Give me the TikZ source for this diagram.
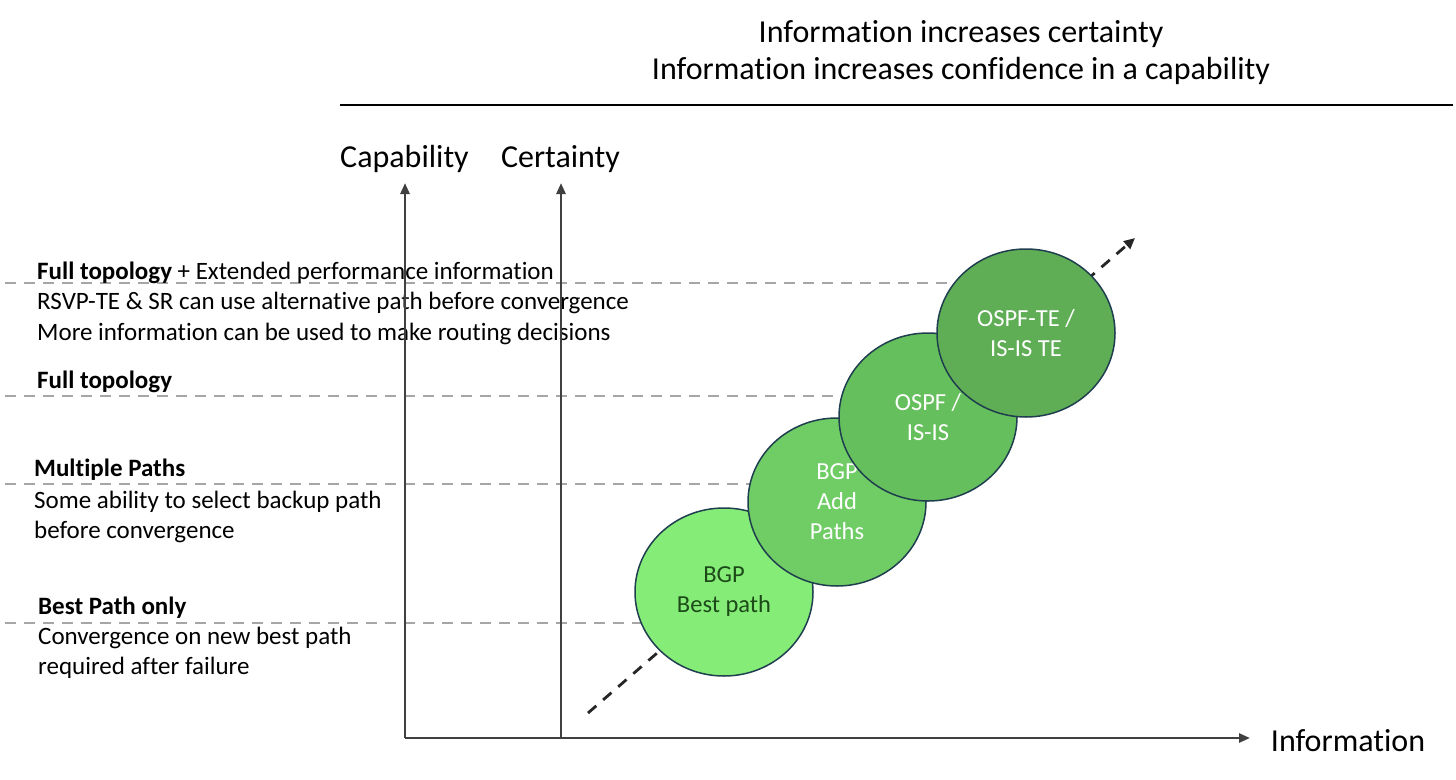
\documentclass[tikz,border=0pt]{standalone}
\usepackage{fontspec}
\setmainfont{Carlito}[Ligatures={NoCommon}]
\usetikzlibrary{arrows.meta,shapes.geometric}
\definecolor{axisgray}{HTML}{404040}
\definecolor{dashgray}{HTML}{A6A6A6}
\definecolor{edgeblue}{HTML}{1F3F4F}
\definecolor{gA}{HTML}{86EC78}
\definecolor{gB}{HTML}{70CD66}
\definecolor{gC}{HTML}{66BF5D}
\definecolor{gD}{HTML}{5FAE56}
\definecolor{darkgreen}{HTML}{1C4A18}
\begin{document}
\begin{tikzpicture}[x=1pt,y=-1pt,
  txt/.style={inner sep=0pt,anchor=base west,font=\fontsize{25}{30}\selectfont},
  big/.style={inner sep=0pt,anchor=base,font=\fontsize{32}{36}\selectfont},
  axis/.style={draw=axisgray,line width=2.5pt,-{Triangle[length=11pt,width=9pt]}},
  level/.style={draw=dashgray,line width=2pt,dash pattern=on 11pt off 8pt},
  blob/.style={ellipse,draw=edgeblue,line width=1.5pt,minimum width=178pt,minimum height=168pt,inner sep=0pt,align=center,font=\fontsize{24.5}{30}\selectfont,text=white},
]
\useasboundingbox (0,0) rectangle (1456,779);
\fill[white] (0,0) rectangle (1456,779);
% title
\node[big] (title1) at (961,42) {Information increases certainty};
\node[big] (title2) at (961,79) {Information increases confidence in a capability};
\coordinate (hl) at (340,105);
\coordinate (hr) at (1453,105);
\draw[black,line width=1.8pt] (hl) -- (hr);
% axis labels
\node[big] (cap) at (404.5,167) {Capability};
\node[big] (cer) at (560.5,167) {Certainty};
\node[big] (info) at (1348,751) {Information};
% coordinates
\coordinate (o1) at (405,738);
\coordinate (c1) at (405,183);
\coordinate (o2) at (561,738);
\coordinate (c2) at (561,183);
\coordinate (xe) at (1250,738);
% level dashed lines
\coordinate (l1a) at (5,283); \coordinate (l1b) at (960,283);
\coordinate (l2a) at (5,396); \coordinate (l2b) at (860,396);
\coordinate (l3a) at (5,484); \coordinate (l3b) at (770,484);
\coordinate (l4a) at (5,623); \coordinate (l4b) at (660,623);
\draw[level] (l1a) -- (l1b);
\draw[level] (l2a) -- (l2b);
\draw[level] (l3a) -- (l3b);
\draw[level] (l4a) -- (l4b);
% texts
\node[txt] (a1) at (37,279) {\textbf{Full topology} + Extended performance information};
\node[txt] (a2) at (37,309) {RSVP-TE \& SR can use alternative path before convergence};
\node[txt] (a3) at (37,340) {More information can be used to make routing decisions};
\node[txt] (b1) at (37,388) {\textbf{Full topology}};
\node[txt] (c1t) at (34,476) {\textbf{Multiple Paths}};
\node[txt] (c2t) at (34,508) {Some ability to select backup path};
\node[txt] (c3t) at (34,538) {before convergence};
\node[txt] (d1) at (38,614) {\textbf{Best Path only}};
\node[txt] (d2) at (38,644) {Convergence on new best path};
\node[txt] (d3) at (38,674) {required after failure};
% axes
\draw[axis] (o1) -- (c1);
\draw[axis] (o2) -- (c2);
\draw[axis,-] (o1) -- (o2);
\draw[axis] (o2) -- (xe);
% diagonal dashed arrow
\coordinate (ds) at (588,713);
\coordinate (de) at (1135,238);
\draw[draw=black!85,line width=2.8pt,dash pattern=on 11pt off 9pt,-{Triangle[length=11pt,width=10pt]}] (ds) -- (de);
% circles
\node[blob,fill=gA,text=darkgreen] (bgp) at (724,592) {BGP\\Best path};
\node[blob,fill=gB] (add) at (837,502) {BGP\\Add\\Paths};
\node[blob,fill=gC] (ospf) at (928,417) {OSPF /\\IS-IS};
\node[blob,fill=gD] (te) at (1026,333) {OSPF-TE /\\IS-IS TE};
\end{tikzpicture}
\end{document}
